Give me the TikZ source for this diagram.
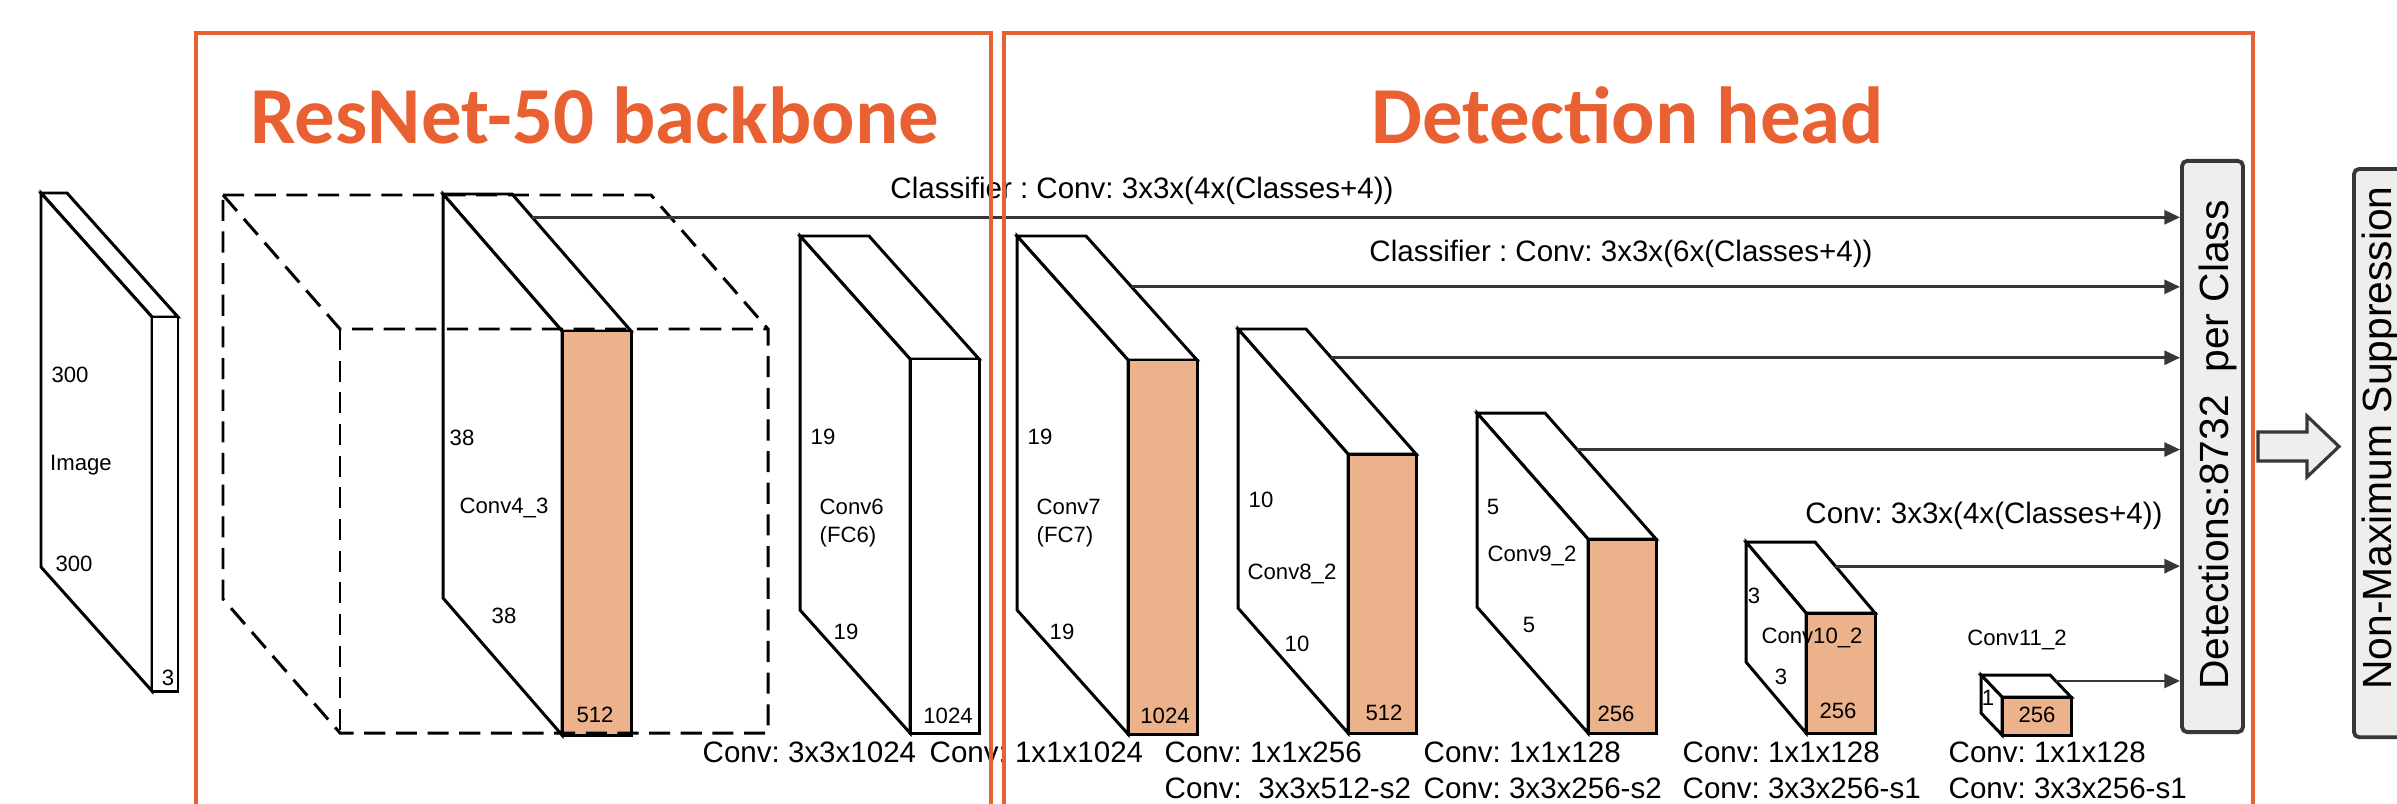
\documentclass[tikz,border=0pt]{standalone}
\usepackage{fontspec}
\setmainfont{Liberation Sans}
\newfontfamily\titlefont{Carlito}
\usetikzlibrary{arrows.meta,calc}
\frenchspacing

\definecolor{hdorange}{RGB}{233,97,50}
\definecolor{mapfill}{RGB}{236,178,140}
\definecolor{boxgray}{RGB}{238,238,236}
\definecolor{edgegray}{RGB}{55,55,55}

% feature map block: name, left, top, width, dx, dy, height, front colour
\newcommand{\fmap}[8]{%
  \coordinate (#1-a) at (#2,#3);
  \coordinate (#1-b) at (#2+#4,#3);
  \coordinate (#1-c) at (#2+#4+#5,#3+#6);
  \coordinate (#1-d) at (#2+#5,#3+#6);
  \coordinate (#1-e) at (#2+#5,#3+#6+#7);
  \coordinate (#1-f) at (#2+#4+#5,#3+#6+#7);
  \coordinate (#1-g) at (#2,#3+#7);
  \draw[mapline,fill=white] (#1-a) -- (#1-b) -- (#1-c) -- (#1-d) -- cycle;
  \draw[mapline,fill=white] (#1-a) -- (#1-d) -- (#1-e) -- (#1-g) -- cycle;
  \draw[mapline,fill=#8] (#1-d) -- (#1-c) -- (#1-f) -- (#1-e) -- cycle;
}

\tikzset{
  mapline/.style={line width=0.85pt,line join=miter},
  ghost/.style={line width=0.85pt,dash pattern=on 6pt off 3pt},
  feed/.style={line width=0.8pt,draw=edgegray,-{Triangle[length=4.5pt,width=4pt]}},
  dimlabel/.style={font=\fontsize{6.3}{7.5}\selectfont,inner sep=0pt},
  oplabel/.style={font=\fontsize{8.4}{10}\selectfont,inner sep=0pt,anchor=west},
  clslabel/.style={font=\fontsize{8.4}{10}\selectfont,inner sep=0pt},
  detbox/.style={draw=edgegray,fill=boxgray,line width=1.1pt,rounded corners=1.5pt},
  dettext/.style={font=\fontsize{11.6}{13}\selectfont,rotate=90,anchor=base,inner sep=0pt},
  frame/.style={draw=hdorange,line width=0.9pt},
  title/.style={font=\titlefont\bfseries\fontsize{23}{27}\selectfont,text=hdorange,anchor=base,inner sep=0pt},
}

\begin{document}
\begin{tikzpicture}[x=0.01cm,y=-0.01cm]
  \useasboundingbox (0,0) rectangle (2397,803);

  % input and backbone maps
  \fmap{img}{41}{193}{26}{111}{124}{374}{white}
  \fmap{cfq}{443}{194}{69}{119}{137}{404}{mapfill}
  \draw[ghost] (223,195) -- (651,195) -- (768,329) -- (768,733) -- (340,733) -- (223,599) -- cycle;
  \draw[ghost] (223,195) -- (340,329) -- (768,329);
  \draw[ghost] (340,329) -- (340,733);
  \fmap{csx}{800}{236}{69}{110}{123}{374}{white}

  % extra feature layers
  \fmap{csv}{1017}{236}{69}{111}{124}{374}{mapfill}
  \fmap{cei}{1238}{329}{68}{110}{125}{279}{mapfill}
  \fmap{cni}{1477}{413}{68}{111}{126}{194}{mapfill}
  \fmap{cte}{1746}{542}{69}{60}{71}{120}{mapfill}
  \fmap{cel}{1981}{675}{69}{21}{22}{38}{mapfill}

  % sizes inside the maps
  \node[dimlabel] (imgh) at (70,375) {300};
  \node[dimlabel] (imgn) at (81,465) {Image};
  \node[dimlabel] (imgw) at (74,564) {300};
  \node[dimlabel] (imgc) at (168,678) {3};
  \node[dimlabel] (cfqh) at (462,438) {38};
  \node[dimlabel] (cfqn) at (504,508) {Conv4\_3};
  \node[dimlabel] (cfqw) at (504,616) {38};
  \node[dimlabel] (cfqc) at (595,715) {512};
  \node[dimlabel] (csxh) at (823,437) {19};
  \node[dimlabel,anchor=west] (csxn) at (819,507) {Conv6};
  \node[dimlabel,anchor=west] (csxf) at (819,537) {(FC6)};
  \node[dimlabel] (csxw) at (846,632) {19};
  \node[dimlabel] (csxc) at (948,716) {1024};
  \node[dimlabel] (csvh) at (1040,437) {19};
  \node[dimlabel,anchor=west] (csvn) at (1036,507) {Conv7};
  \node[dimlabel,anchor=west] (csvf) at (1036,537) {(FC7)};
  \node[dimlabel] (csvw) at (1062,632) {19};
  \node[dimlabel] (csvc) at (1165,716) {1024};
  \node[dimlabel] (ceih) at (1261,500) {10};
  \node[dimlabel] (cein) at (1292,574) {Conv8\_2};
  \node[dimlabel] (ceiw) at (1297,644) {10};
  \node[dimlabel] (ceic) at (1384,713) {512};
  \node[dimlabel] (cnih) at (1493,507) {5};
  \node[dimlabel] (cnin) at (1532,556) {Conv9\_2};
  \node[dimlabel] (cniw) at (1529,625) {5};
  \node[dimlabel] (cnic) at (1616,714) {256};
  \node[dimlabel] (cteh) at (1754,596) {3};
  \node[dimlabel] (cten) at (1812,638) {Conv10\_2};
  \node[dimlabel] (ctew) at (1781,677) {3};
  \node[dimlabel] (ctec) at (1838,711) {256};
  \node[dimlabel] (celn) at (2017,640) {Conv11\_2};
  \node[dimlabel] (celh) at (1988,698) {1};
  \node[dimlabel] (celc) at (2037,715) {256};

  % layer operations
  \node[oplabel] (opa) at (702,752) {Conv: 3x3x1024};
  \node[oplabel] (opb) at (929,752) {Conv: 1x1x1024};
  \node[oplabel] (opc) at (1164,752) {Conv: 1x1x256};
  \node[oplabel] (opcc) at (1164,788) {Conv:\ \ 3x3x512-s2};
  \node[oplabel] (opd) at (1423,752) {Conv: 1x1x128};
  \node[oplabel] (opdd) at (1423,788) {Conv: 3x3x256-s2};
  \node[oplabel] (ope) at (1682,752) {Conv: 1x1x128};
  \node[oplabel] (opee) at (1682,788) {Conv: 3x3x256-s1};
  \node[oplabel] (opf) at (1948,752) {Conv: 1x1x128};
  \node[oplabel] (opff) at (1948,788) {Conv: 3x3x256-s1};

  % detections and nms
  \node[detbox,minimum width=0.61cm,minimum height=5.71cm] (det) at (2212.5,446.5) {};
  \node[dettext] (dettxt) at (2228,445) {Detections:8732\ \ per Class};
  \node[detbox,anchor=north west,minimum width=0.5cm,minimum height=5.68cm] (nms) at (2352,167) {};
  \node[dettext] (nmstxt) at (2391,438) {Non-Maximum Suppression};
  \draw[draw=edgegray,fill=boxgray,line width=0.9pt,line join=miter]
    (2258,432) -- (2307,432) -- (2307,416) -- (2339,446.5) -- (2307,477) -- (2307,461) -- (2258,461) -- cycle;

  % classifier branches
  \coordinate (oa) at ($(cfq-b)!0.17!(cfq-c)$);
  \coordinate (ob) at ($(csv-b)!0.41!(csv-c)$);
  \coordinate (oc) at ($(cei-b)!0.23!(cei-c)$);
  \coordinate (od) at ($(cni-b)!0.29!(cni-c)$);
  \coordinate (oe) at ($(cte-b)!0.34!(cte-c)$);
  \coordinate (of) at ($(cel-b)!0.27!(cel-c)$);
  \foreach \src in {oa,ob,oc,od,oe,of}
    \draw[feed] (\src) -- (\src -| det.west);
  \node[clslabel] (clsa) at (1142,191) {Classifier : Conv: 3x3x(4x(Classes+4))};
  \node[clslabel] (clsb) at (1621,254) {Classifier : Conv: 3x3x(6x(Classes+4))};
  \node[clslabel] (clsc) at (1984,516) {Conv: 3x3x(4x(Classes+4))};

  % section frames
  \draw[frame] (196,810) -- (196,33) -- (991,33) -- (991,810);
  \draw[frame] (1004,810) -- (1004,33) -- (2253,33) -- (2253,810);
  \node[title] (bbtitle) at (595,143) {ResNet-50 backbone};
  \node[title] (dhtitle) at (1628,143) {Detection head};
\end{tikzpicture}
\end{document}
